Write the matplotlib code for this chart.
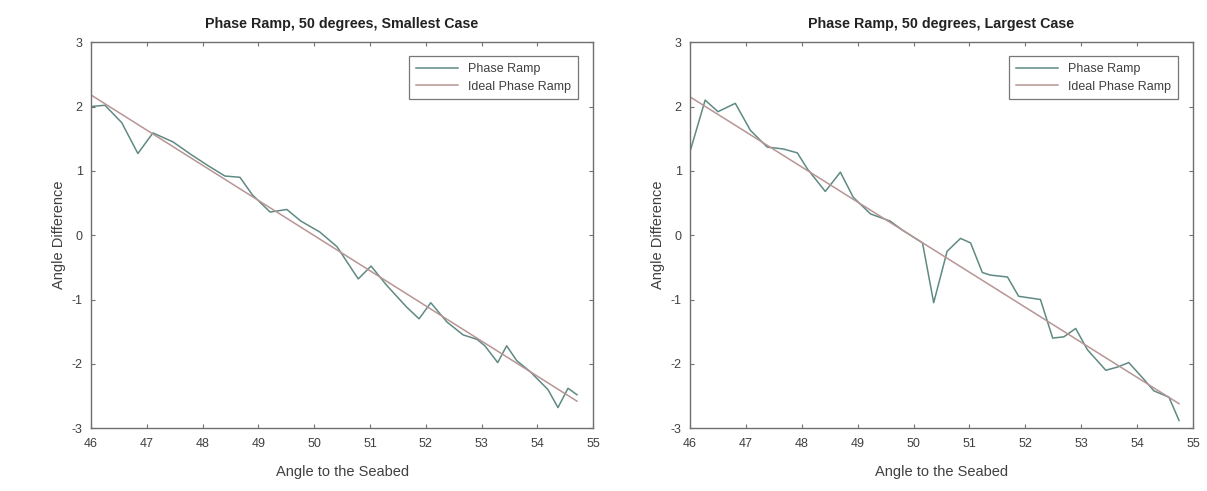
import numpy as np
import matplotlib.pyplot as plt

plt.rcParams['font.family'] = ['Liberation Sans', 'DejaVu Sans']
plt.rcParams['axes.unicode_minus'] = False

# Smallest case: measured phase ramp
small_x = [46.0, 46.25, 46.55, 46.84, 47.11, 47.47, 47.8, 48.1, 48.4, 48.67, 48.89,
           49.21, 49.51, 49.76, 50.1, 50.41, 50.79, 51.02, 51.30, 51.66, 51.88, 52.09,
           52.38, 52.67, 52.92, 53.06, 53.29, 53.45, 53.63, 53.87, 54.19, 54.37, 54.55, 54.71]
small_y = [2.0, 2.02, 1.75, 1.27, 1.59, 1.45, 1.25, 1.08, 0.92, 0.90, 0.63,
           0.36, 0.40, 0.22, 0.05, -0.18, -0.68, -0.48, -0.78, -1.12, -1.30, -1.05,
           -1.35, -1.55, -1.62, -1.72, -1.98, -1.72, -1.95, -2.12, -2.40, -2.68, -2.38, -2.48]

# Largest case: measured phase ramp
large_x = [46.0, 46.27, 46.5, 46.81, 47.08, 47.38, 47.67, 47.92, 48.1, 48.42, 48.69,
           48.92, 49.23, 49.58, 49.8, 50.16, 50.36, 50.6, 50.84, 51.02, 51.23, 51.37,
           51.68, 51.88, 52.27, 52.49, 52.69, 52.90, 53.11, 53.44, 53.65, 53.85, 54.10,
           54.30, 54.57, 54.75]
large_y = [1.30, 2.10, 1.92, 2.05, 1.63, 1.37, 1.34, 1.28, 1.03, 0.68, 0.98,
           0.59, 0.33, 0.22, 0.08, -0.12, -1.05, -0.25, -0.05, -0.12, -0.58, -0.62,
           -0.65, -0.95, -1.00, -1.60, -1.58, -1.45, -1.78, -2.10, -2.05, -1.98, -2.22,
           -2.42, -2.52, -2.88]

# Ideal ramp end points
ideal_small_x = [46.0, 54.71]
ideal_small_y = [2.18, -2.58]
ideal_large_x = [46.0, 54.75]
ideal_large_y = [2.15, -2.62]

titles = ['Phase Ramp, 50 degrees, Smallest Case', 'Phase Ramp, 50 degrees, Largest Case']

ramp_color = '#5f8a83'
ideal_color = '#b89595'
text_color = '#404040'
axis_color = '#707070'

fig = plt.figure(figsize=(12.07, 4.91), dpi=100)
ax1 = fig.add_axes([0.0754, 0.128, 0.416, 0.786])
ax2 = fig.add_axes([0.5717, 0.128, 0.4167, 0.786])

panels = [(ax1, small_x, small_y, ideal_small_x, ideal_small_y, titles[0]),
          (ax2, large_x, large_y, ideal_large_x, ideal_large_y, titles[1])]

for ax, px, py, ix, iy, title in panels:
    ax.plot(px, py, color=ramp_color, lw=1.1, label='Phase Ramp')
    ax.plot(ix, iy, color=ideal_color, lw=1.1, label='Ideal Phase Ramp')
    ax.set_xlim(46, 55)
    ax.set_ylim(-3, 3)
    ax.set_xticks(range(46, 56))
    ax.set_yticks(range(-3, 4))
    ax.tick_params(direction='in', top=True, right=True, length=3,
                   labelsize=9, colors=axis_color, labelcolor=text_color)
    ax.tick_params(axis='x', pad=7)
    ax.tick_params(axis='y', pad=6)
    for s in ax.spines.values():
        s.set_color(axis_color)
        s.set_linewidth(1.0)
    ax.set_title(title, fontsize=10.3, fontweight='bold', color='#222222', pad=10)
    ax.set_xlabel('Angle to the Seabed', fontsize=10.5, color=text_color, labelpad=11)
    ax.set_ylabel('Angle Difference', fontsize=10.5, color=text_color, labelpad=4)
    leg = ax.legend(loc='upper right', fontsize=9, frameon=True, fancybox=False,
                    borderpad=0.55, handlelength=3.4, labelspacing=0.45,
                    borderaxespad=0, bbox_to_anchor=(0.97, 0.964))
    leg.get_frame().set_edgecolor('#555555')
    leg.get_frame().set_linewidth(0.9)
    for t in leg.get_texts():
        t.set_color(text_color)

fig.savefig('out.png', dpi=100)
